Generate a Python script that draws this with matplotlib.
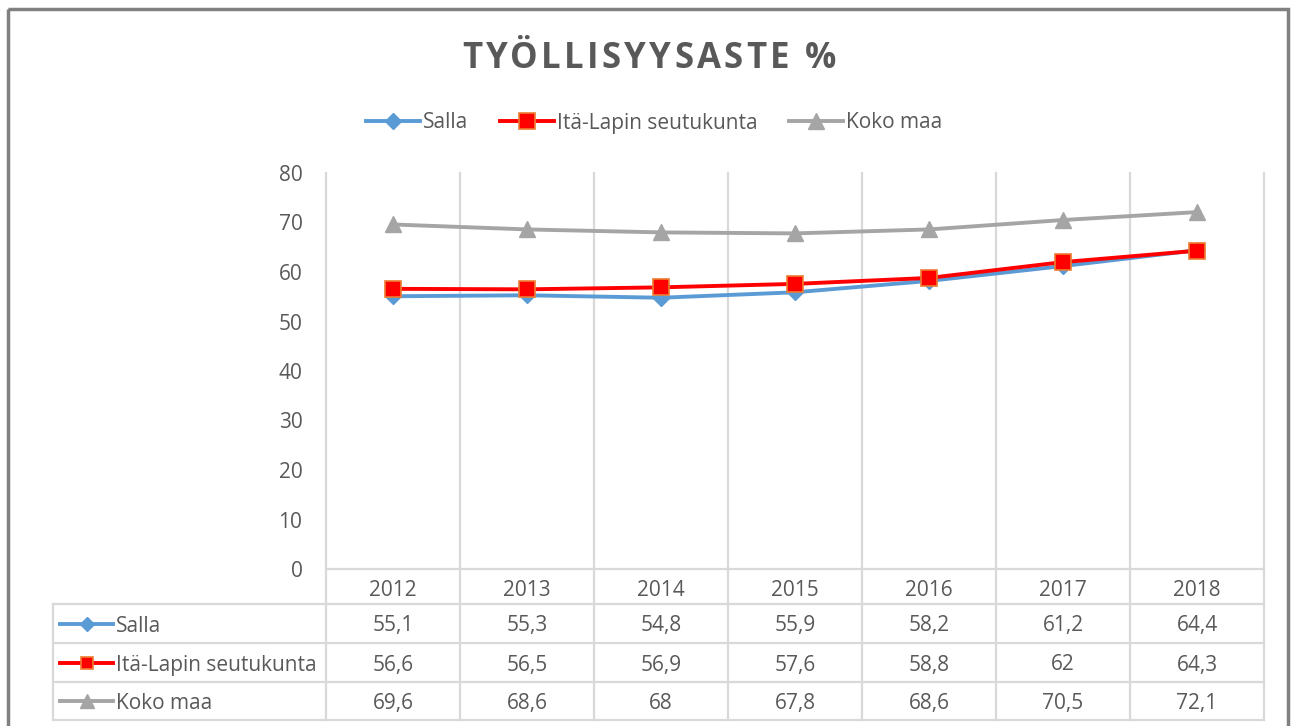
import matplotlib
matplotlib.use("Agg")
import matplotlib.pyplot as plt
from matplotlib.lines import Line2D
from matplotlib.patches import Rectangle

plt.rcParams['font.family'] = ['Open Sans', 'DejaVu Sans']

years = ['2012', '2013', '2014', '2015', '2016', '2017', '2018']
series_names = ['Salla', 'Itä-Lapin seutukunta', 'Koko maa']
salla = [55.1, 55.3, 54.8, 55.9, 58.2, 61.2, 64.4]
ita_lappi = [56.6, 56.5, 56.9, 57.6, 58.8, 62.0, 64.3]
koko_maa = [69.6, 68.6, 68.0, 67.8, 68.6, 70.5, 72.1]
yticks = [0, 10, 20, 30, 40, 50, 60, 70, 80]
title = 'TYÖLLISYYSASTE %'

W, H = 1295, 726
txt = '#595959'
grid = '#D9D9D9'
fs = 15

styles = [
    dict(color='#5B9BD5', marker='D', markersize=8, markerfacecolor='#5B9BD5',
         markeredgecolor='#5B9BD5', lw=2.8),
    dict(color='#FF0000', marker='s', markersize=11, markerfacecolor='#FF0000',
         markeredgecolor='#ED7D31', markeredgewidth=1.2, lw=2.8),
    dict(color='#A5A5A5', marker='^', markersize=12, markerfacecolor='#A5A5A5',
         markeredgecolor='#A5A5A5', lw=2.8),
]
data = [salla, ita_lappi, koko_maa]

fig = plt.figure(figsize=(W / 100, H / 100), dpi=100)

# plot area in pixels
px_l, px_r, px_t, px_b = 326, 1264, 173, 569
ax = fig.add_axes([px_l / W, 1 - px_b / H, (px_r - px_l) / W, (px_b - px_t) / H])
ax.patch.set_visible(False)
x = list(range(len(years)))
for vals, st in zip(data, styles):
    ax.plot(x, vals, zorder=3, clip_on=False, **st)
ax.set_xlim(-0.5, len(years) - 0.5)
ax.set_ylim(0, 80)
ax.set_yticks(yticks)
ax.set_xticks([])
ax.tick_params(axis='y', length=0, pad=17, labelsize=fs, labelcolor=txt)
for s in ax.spines.values():
    s.set_visible(False)

# overlay in pixel coordinates for table, frame and title
ov = fig.add_axes([0, 0, 1, 1], zorder=-1)
ov.set_xlim(0, W)
ov.set_ylim(H, 0)
ov.axis('off')

col_w = (px_r - px_l) / len(years)
rows = [569, 604, 643, 682, 720]
tab_l = 53

# vertical grid lines through plot and table
for i in range(len(years) + 1):
    xx = px_l + i * col_w
    ov.plot([xx, xx], [px_t, rows[-1]], color=grid, lw=1.6)
ov.plot([tab_l, tab_l], [rows[1], rows[-1]], color=grid, lw=1.6)
ov.plot([px_l, px_r], [rows[0], rows[0]], color=grid, lw=1.6)
for yy in rows[1:]:
    ov.plot([tab_l, px_r], [yy, yy], color=grid, lw=1.6)

# header years
for i, yr in enumerate(years):
    ov.text(px_l + (i + 0.5) * col_w, (rows[0] + rows[1]) / 2 + 1, yr,
            ha='center', va='center_baseline', fontsize=fs, color=txt)

# table rows
for r, (name, vals, st) in enumerate(zip(series_names, data, styles)):
    yc = (rows[r + 1] + rows[r + 2]) / 2
    ov.add_line(Line2D([60, 113], [yc, yc], color=st['color'], lw=2.8))
    ov.add_line(Line2D([86.5], [yc], marker=st['marker'],
                       markersize=st['markersize'] * 0.85,
                       markerfacecolor=st['markerfacecolor'],
                       markeredgecolor=st['markeredgecolor'],
                       markeredgewidth=st.get('markeredgewidth', 1)))
    ov.text(116, yc, name, ha='left', va='center_baseline', fontsize=fs, color=txt)
    for i, v in enumerate(vals):
        ov.text(px_l + (i + 0.5) * col_w, yc, f"{v:g}".replace('.', ','),
                ha='center', va='center_baseline', fontsize=fs, color=txt)

# outer frame
ov.add_patch(Rectangle((7.5, 8.5), 1280.5, 730, fill=False, edgecolor='#808080', lw=2.5))

# title with letter spacing (placed char by char)
renderer = fig.canvas.get_renderer()
t_left, t_right, t_base = 462, 836, 68
chars = []
widths = []
for ch in title:
    t = ov.text(0, t_base, ch, ha='left', va='baseline', fontsize=25,
                fontweight='bold', color=txt)
    chars.append(t)
    widths.append(t.get_window_extent(renderer).width)
gap = (t_right - t_left - sum(widths)) / (len(title) - 1)
xpos = t_left
for t, w in zip(chars, widths):
    t.set_x(xpos)
    xpos += w + gap

# legend
handles = [Line2D([], [], **st) for st in styles]
fig.legend(handles, series_names, loc='center', bbox_to_anchor=(654 / W, 1 - 123 / H),
           ncol=3, frameon=False, fontsize=fs, handlelength=2.6, handletextpad=0.15,
           columnspacing=1.5, labelcolor=txt)

fig.savefig('out.png', dpi=100)
